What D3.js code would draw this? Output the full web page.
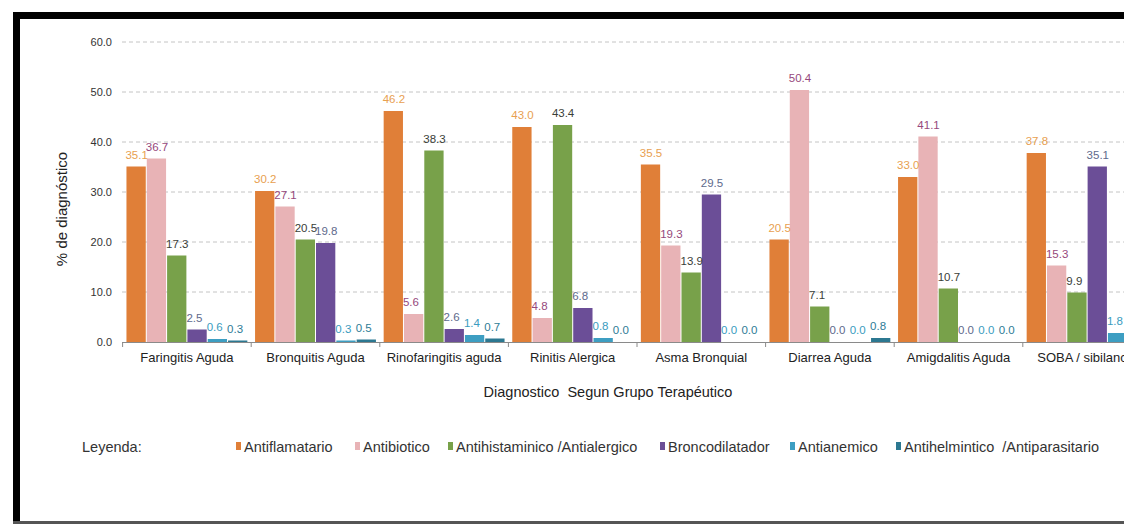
<!DOCTYPE html>
<html><head><meta charset="utf-8">
<script src="https://cdn.jsdelivr.net/npm/d3@7"></script>
<style>
html,body{margin:0;padding:0;background:#fff;}
svg{display:block;font-family:"Liberation Sans",Arial,sans-serif;}
</style></head>
<body>
<svg id="c" width="1124" height="526"></svg>
<script>
const categories = ["Faringitis Aguda","Bronquitis Aguda","Rinofaringitis aguda","Rinitis Alergica","Asma Bronquial","Diarrea Aguda","Amigdalitis Aguda","SOBA / sibilancia"];
const seriesNames = ["Antiflamatario","Antibiotico","Antihistaminico /Antialergico","Broncodilatador","Antianemico","Antihelmintico  /Antiparasitario"];
const antiflamatario = [35.1,30.2,46.2,43.0,35.5,20.5,33.0,37.8];
const antibiotico    = [36.7,27.1,5.6,4.8,19.3,50.4,41.1,15.3];
const antihistaminico= [17.3,20.5,38.3,43.4,13.9,7.1,10.7,9.9];
const broncodilatador= [2.5,19.8,2.6,6.8,29.5,0.0,0.0,35.1];
const antianemico    = [0.6,0.3,1.4,0.8,0.0,0.0,0.0,1.8];
const antihelmintico = [0.3,0.5,0.7,0.0,0.0,0.8,0.0,0.0];
const yTicks = [0,10,20,30,40,50,60];

const seriesValues = [antiflamatario,antibiotico,antihistaminico,broncodilatador,antianemico,antihelmintico];
const barColors = ["#e07f38","#e8b3b6","#78a14a","#6b4e97","#3d9ec2","#2c7891"];
const labelColors = ["#e8a050","#96487c","#3a4038","#5e6a8c","#3a9cc0","#2e7c96"];
const legendX = [236,355,448,660,790,896];

const svg = d3.select("#c");

// frame
svg.append("rect").attr("x",13).attr("y",12).attr("width",1124).attr("height",7).attr("fill","#000");
svg.append("rect").attr("x",13).attr("y",12).attr("width",7).attr("height",512).attr("fill","#000");
svg.append("rect").attr("x",13).attr("y",521).attr("width",1124).attr("height",3).attr("fill","#555");

const x0 = d3.scaleBand().domain(categories).range([122.6, 122.6 + 8*128.6]).padding(0);
const x1 = d3.scaleBand().domain(d3.range(6)).range([0, x0.bandwidth()]).paddingInner(0.05).paddingOuter(0.19);
const y = d3.scaleLinear().domain([0,60]).range([342,42]);

// gridlines
svg.append("g").selectAll("line").data(yTicks.filter(d=>d>0)).join("line")
  .attr("x1",122).attr("x2",1124).attr("y1",d=>y(d)).attr("y2",d=>y(d))
  .attr("stroke","#c4c4c4").attr("stroke-width",1).attr("stroke-dasharray","4,3");

// y tick labels
svg.append("g").selectAll("text").data(yTicks).join("text")
  .attr("x",112).attr("y",d=>y(d)+4).attr("text-anchor","end")
  .attr("font-size",11).attr("fill","#333").text(d=>d.toFixed(1));

// bars
const groups = svg.append("g").selectAll("g").data(categories).join("g")
  .attr("transform",c=>`translate(${x0(c)},0)`);
groups.each(function(c,ci){
  const g = d3.select(this);
  const vals = seriesValues.map((s,si)=>({si, v:s[ci]}));
  g.selectAll("rect").data(vals).join("rect")
    .attr("x",d=>x1(d.si)).attr("width",x1.bandwidth())
    .attr("y",d=>y(d.v)).attr("height",d=>Math.max(0,y(0)-y(d.v)))
    .attr("fill",d=>barColors[d.si]);
  g.selectAll("text").data(vals).join("text")
    .attr("x",d=>x1(d.si)-1).attr("y",d=>y(d.v)-8)
    .attr("text-anchor","start").attr("font-size",11.5)
    .attr("fill",d=>labelColors[d.si]).text(d=>d.v.toFixed(1));
});

// x axis baseline and ticks
svg.append("line").attr("x1",122).attr("x2",1124).attr("y1",y(0)+0.5).attr("y2",y(0)+0.5)
  .attr("stroke","#8a8a8a").attr("stroke-width",1);
svg.append("g").selectAll("line").data(categories).join("line")
  .attr("x1",c=>x0(c)).attr("x2",c=>x0(c)).attr("y1",y(0)).attr("y2",y(0)+5)
  .attr("stroke","#8a8a8a");

// category labels
svg.append("g").selectAll("text").data(categories).join("text")
  .attr("x",c=>x0(c)+x0.bandwidth()/2).attr("y",362).attr("text-anchor","middle")
  .attr("font-size",13).attr("fill","#222").text(c=>c);

// axis titles
svg.append("text").attr("x",608).attr("y",397).attr("text-anchor","middle")
  .attr("font-size",14.5).attr("fill","#222").attr("xml:space","preserve").text("Diagnostico  Segun Grupo Terapéutico");
svg.append("text").attr("transform","translate(67,209) rotate(-90)").attr("text-anchor","middle")
  .attr("font-size",15).attr("fill","#222").text("% de diagnóstico");

// legend
svg.append("text").attr("x",82).attr("y",452).attr("font-size",14.5).attr("fill","#333").text("Leyenda:");
const leg = svg.append("g").selectAll("g").data(seriesNames).join("g")
  .attr("transform",(d,i)=>`translate(${legendX[i]},0)`);
leg.append("rect").attr("x",0).attr("y",442).attr("width",5).attr("height",8).attr("fill",(d,i)=>barColors[i]);
leg.append("text").attr("x",8).attr("y",452).attr("font-size",14.5).attr("fill","#333")
  .attr("xml:space","preserve").text(d=>d);
</script>
</body></html>
